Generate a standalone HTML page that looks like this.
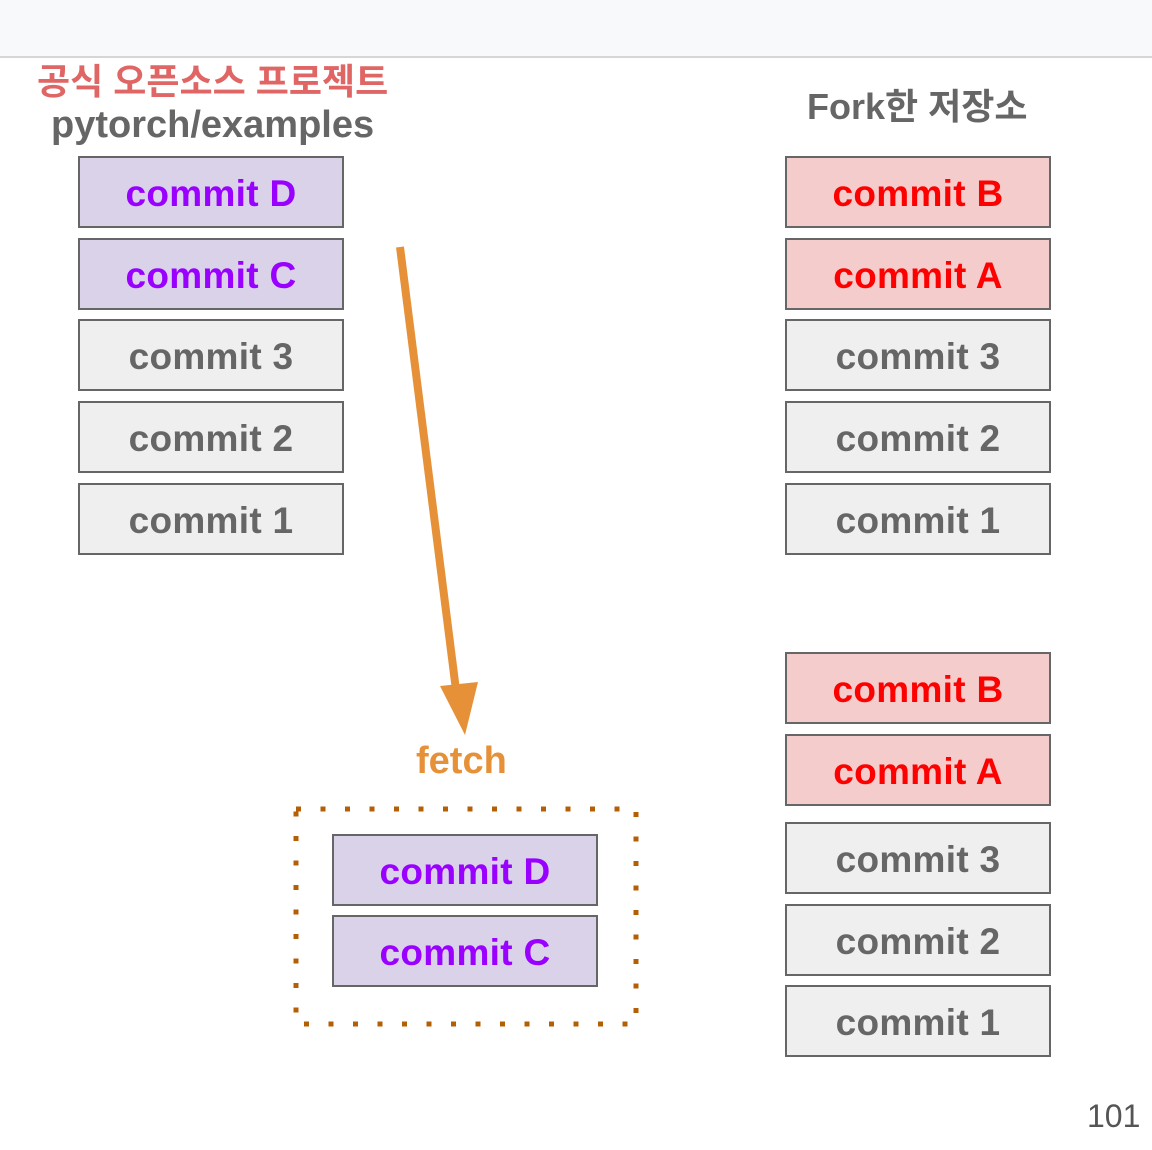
<!DOCTYPE html>
<html><head><meta charset="utf-8"><style>
body{margin:0;width:1152px;height:1150px;background:#fff;position:relative;overflow:hidden;font-family:"Liberation Sans","Noto Sans CJK KR",sans-serif}
.top{position:absolute;left:0;top:0;width:1152px;height:56px;background:#f8f9fa;border-bottom:2px solid #d6d6d6}
.b{position:absolute;width:262px;height:68px;border:2px solid #666;box-sizing:content-box;text-align:center;line-height:72px;font-weight:bold;font-size:37px;letter-spacing:0.3px}
.g{background:#efefef;color:#666}
.p{background:#d9d2e9;color:#9900ff}
.r{background:#f4cccc;color:#ff0000}
.t{position:absolute;font-weight:bold;white-space:nowrap}
</style></head><body>
<div class="top"></div>
<div class="t" style="left:37px;top:53px;font-size:36px;color:#e06666">공식 오픈소스 프로젝트</div>
<div class="t" style="left:51px;top:104px;font-size:38px;color:#666">pytorch/examples</div>
<div class="t" style="left:807px;top:78px;font-size:36px;color:#666">Fork한 저장소</div>
<div class="b p" style="left:78px;top:156px">commit D</div>
<div class="b p" style="left:78px;top:238px">commit C</div>
<div class="b g" style="left:78px;top:319px">commit 3</div>
<div class="b g" style="left:78px;top:401px">commit 2</div>
<div class="b g" style="left:78px;top:483px">commit 1</div>
<div class="b r" style="left:785px;top:156px">commit B</div>
<div class="b r" style="left:785px;top:238px">commit A</div>
<div class="b g" style="left:785px;top:319px">commit 3</div>
<div class="b g" style="left:785px;top:401px">commit 2</div>
<div class="b g" style="left:785px;top:483px">commit 1</div>
<div class="b r" style="left:785px;top:652px">commit B</div>
<div class="b r" style="left:785px;top:734px">commit A</div>
<div class="b g" style="left:785px;top:822px">commit 3</div>
<div class="b g" style="left:785px;top:904px">commit 2</div>
<div class="b g" style="left:785px;top:985px">commit 1</div>
<div class="b p" style="left:332px;top:834px">commit D</div>
<div class="b p" style="left:332px;top:915px">commit C</div>
<svg style="position:absolute;left:0;top:0" width="1152" height="1150">
<line x1="400" y1="247" x2="456" y2="690" stroke="#e69138" stroke-width="8"/>
<polygon points="440,686 478,682 465,735" fill="#e69138"/>
<rect x="296" y="809" width="340" height="215" fill="none" stroke="#b45f06" stroke-width="5" stroke-dasharray="5,19.5"/>
</svg>
<div class="t" style="left:416px;top:740px;font-size:38px;color:#e69138">fetch</div>
<div style="position:absolute;left:1087px;top:1098px;font-size:32px;color:#555">101</div>
</body></html>
